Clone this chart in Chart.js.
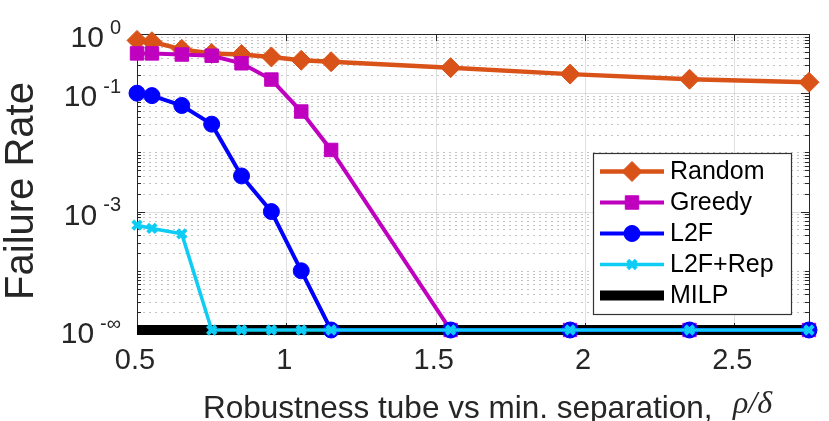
<!DOCTYPE html>
<html>
<head>
<meta charset="utf-8">
<script src="https://cdn.jsdelivr.net/npm/chart.js@4"></script>
<style>
  html, body { margin: 0; padding: 0; background: #fff; }
  #wrap { width: 829px; height: 421px; position: relative; }
</style>
</head>
<body>
<div id="wrap"><canvas id="myChart"></canvas></div>
<script>
// rho/delta values
var xValues = [0.5, 0.55, 0.65, 0.75, 0.85, 0.95, 1.05, 1.15, 1.55, 1.95, 2.35, 2.75];

// failure rates, 0 means no failure (shown as 10^-inf)
var randomRate = [0.78, 0.74, 0.55, 0.47, 0.45, 0.41, 0.36, 0.34, 0.27, 0.21, 0.172, 0.153];
var greedyRate = [0.47, 0.47, 0.45, 0.43, 0.32, 0.17, 0.049, 0.011, 0, 0, 0, 0];
var l2fRate = [0.1, 0.091, 0.062, 0.030, 0.004, 0.001, 0.0001, 0, 0, 0, 0, 0];
var l2fRepRate = [0.00059, 0.00052, 0.00042, 0, 0, 0, 0, 0, 0, 0, 0, 0];
var milpRate = [0, 0, 0, 0, 0, 0, 0, 0, 0, 0, 0, 0];

var xTicks = [0.5, 1, 1.5, 2, 2.5];
var xTickLabels = ['0.5', '1', '1.5', '2', '2.5'];
var yTicks = [1, 0.1, 0.001, 0.00001];
var yTickExp = ['0', '-1', '-3', '-\u221E'];

var FLOOR = 0.00001; // where 10^-inf sits on the axis
var TXT = '#262626';
var SANS = '"Liberation Sans", Arial, sans-serif';

function toPoints(rates) {
    return xValues.map(function (x, i) {
        return { x: x, y: rates[i] > 0 ? rates[i] : FLOOR };
    });
}

var decor = {
    id: 'decor',
    beforeDatasetsDraw: function (chart) {
        var ctx = chart.ctx, a = chart.chartArea;
        var xs = chart.scales.x, ys = chart.scales.y;
        ctx.save();
        // horizontal grid, log decades
        for (var k = -5; k <= 0; k++) {
            for (var m = 1; m <= 9; m++) {
                var v = m * Math.pow(10, k);
                if (v > 1.0000001) break;
                var py = Math.round(ys.getPixelForValue(v)) + 0.5;
                var major = yTicks.some(function (t) { return Math.abs(t - v) < v * 1e-6; });
                ctx.beginPath();
                if (major) {
                    ctx.setLineDash([]);
                    ctx.strokeStyle = 'rgba(38,38,38,0.15)';
                } else {
                    ctx.setLineDash([2, 4]);
                    ctx.strokeStyle = 'rgba(38,38,38,0.28)';
                }
                ctx.lineWidth = 1;
                ctx.moveTo(a.left, py);
                ctx.lineTo(a.right, py);
                ctx.stroke();
                // ticks on left and right
                ctx.setLineDash([]);
                ctx.strokeStyle = TXT;
                var len = major ? 8 : 4;
                ctx.beginPath();
                ctx.moveTo(a.left, py);
                ctx.lineTo(a.left + len, py);
                ctx.moveTo(a.right, py);
                ctx.lineTo(a.right - len, py);
                ctx.stroke();
            }
        }
        // vertical grid
        xTicks.forEach(function (t) {
            var px = Math.round(xs.getPixelForValue(t)) + 0.5;
            ctx.strokeStyle = 'rgba(38,38,38,0.15)';
            ctx.beginPath();
            ctx.moveTo(px, a.top);
            ctx.lineTo(px, a.bottom);
            ctx.stroke();
            ctx.strokeStyle = TXT;
            ctx.beginPath();
            ctx.moveTo(px, a.top);
            ctx.lineTo(px, a.top + 7);
            ctx.moveTo(px, a.bottom);
            ctx.lineTo(px, a.bottom - 7);
            ctx.stroke();
        });
        // box
        ctx.strokeStyle = TXT;
        ctx.lineWidth = 1;
        ctx.strokeRect(Math.round(a.left) + 0.5, Math.round(a.top) + 0.5,
            Math.round(a.right - a.left), Math.round(a.bottom - a.top));
        ctx.restore();
    },
    afterDatasetsDraw: function (chart) {
        var ctx = chart.ctx, a = chart.chartArea;
        var xs = chart.scales.x, ys = chart.scales.y;
        ctx.save();
        ctx.fillStyle = TXT;
        // x tick labels
        ctx.font = '29px ' + SANS;
        ctx.textAlign = 'center';
        ctx.textBaseline = 'middle';
        xTicks.forEach(function (t, i) {
            ctx.fillText(xTickLabels[i], xs.getPixelForValue(t) - 2, 361);
        });
        // y tick labels as 10^exp
        yTicks.forEach(function (t, i) {
            var py = ys.getPixelForValue(t);
            ctx.font = '20px ' + SANS;
            var ew = ctx.measureText(yTickExp[i]).width;
            ctx.font = '30px ' + SANS;
            var bw = ctx.measureText('10').width;
            var x0 = 121 - ew - 6 - bw;
            ctx.textAlign = 'left';
            ctx.fillText('10', x0, py + 5);
            ctx.font = '20px ' + SANS;
            ctx.fillText(yTickExp[i], x0 + bw + 6, py - 6);
        });
        // y title
        ctx.save();
        ctx.translate(33, 191);
        ctx.rotate(-Math.PI / 2);
        ctx.font = '40px ' + SANS;
        ctx.textAlign = 'center';
        ctx.textBaseline = 'alphabetic';
        ctx.fillText('Failure Rate', 0, 0);
        ctx.restore();
        // x title
        ctx.textAlign = 'left';
        ctx.textBaseline = 'alphabetic';
        ctx.font = '31.5px ' + SANS;
        ctx.fillText('Robustness tube vs min. separation,', 203, 418);
        ctx.font = 'italic 32px "Liberation Serif", serif';
        ctx.fillText('\u03C1/\u03B4', 733, 413);

        // legend box
        var lx = 593, ly = 153, lw = 198, lh = 161;
        ctx.fillStyle = '#fff';
        ctx.fillRect(lx, ly, lw, lh);
        ctx.strokeStyle = '#333';
        ctx.lineWidth = 1.2;
        ctx.strokeRect(lx + 0.5, ly + 0.5, lw, lh);
        var order = [0, 1, 2, 3, 4];
        order.forEach(function (di, row) {
            var ds = chart.data.datasets[di];
            var ry = 171.5 + row * 31;
            ctx.strokeStyle = ds.borderColor;
            ctx.lineWidth = ds.borderWidth;
            ctx.lineCap = 'butt';
            ctx.beginPath();
            ctx.moveTo(600, ry);
            ctx.lineTo(664, ry);
            ctx.stroke();
            if (ds.pointRadius > 0) {
                ctx.fillStyle = ds.backgroundColor;
                ctx.strokeStyle = ds.borderColor;
                ctx.lineWidth = ds.pointBorderWidth;
                Chart.helpers.drawPoint(ctx, {
                    pointStyle: ds.pointStyle,
                    radius: ds.pointRadius,
                    rotation: 0,
                    borderWidth: ds.pointBorderWidth
                }, 632, ry);
            }
            ctx.fillStyle = '#000';
            ctx.font = '25px ' + SANS;
            ctx.textAlign = 'left';
            ctx.textBaseline = 'middle';
            ctx.fillText(ds.label, 670, ry + 1);
        });
        ctx.restore();
    }
};

var ctx = document.getElementById('myChart').getContext('2d');
var chart = new Chart(ctx, {
    type: 'line',
    data: {
        datasets: [{
            label: 'Random',
            data: toPoints(randomRate),
            borderColor: '#D95319',
            backgroundColor: '#D95319',
            borderWidth: 4.5,
            pointStyle: 'rectRot',
            pointRadius: 10,
            pointBorderWidth: 1,
            order: 4,
            clip: false
        },
        {
            label: 'Greedy',
            data: toPoints(greedyRate),
            borderColor: '#BF00BF',
            backgroundColor: '#BF00BF',
            borderWidth: 4,
            pointStyle: 'rect',
            pointRadius: 9.5,
            pointBorderWidth: 1,
            order: 3,
            clip: false
        },
        {
            label: 'L2F',
            data: toPoints(l2fRate),
            borderColor: '#0000FF',
            backgroundColor: '#0000FF',
            borderWidth: 4,
            pointStyle: 'circle',
            pointRadius: 8,
            pointBorderWidth: 1,
            order: 2,
            clip: false
        },
        {
            label: 'L2F+Rep',
            data: toPoints(l2fRepRate),
            borderColor: '#0FCCF5',
            backgroundColor: '#0FCCF5',
            borderWidth: 3.5,
            pointStyle: 'crossRot',
            pointRadius: 6,
            pointBorderWidth: 4,
            order: 1,
            clip: false
        },
        {
            label: 'MILP',
            data: toPoints(milpRate),
            borderColor: '#000000',
            backgroundColor: '#000000',
            borderWidth: 10,
            pointRadius: 0,
            pointBorderWidth: 0,
            borderCapStyle: 'butt',
            order: 5,
            clip: false
        }]
    },
    options: {
        animation: false,
        responsive: true,
        maintainAspectRatio: false,
        layout: { padding: { left: 137, top: 34, right: 20, bottom: 91 } },
        plugins: { legend: { display: false }, tooltip: { enabled: false } },
        elements: { line: { tension: 0 } },
        scales: {
            x: { type: 'linear', min: 0.5, max: 2.75, display: false },
            y: { type: 'logarithmic', min: FLOOR, max: 1, display: false }
        }
    },
    plugins: [decor]
});
</script>
</body>
</html>
